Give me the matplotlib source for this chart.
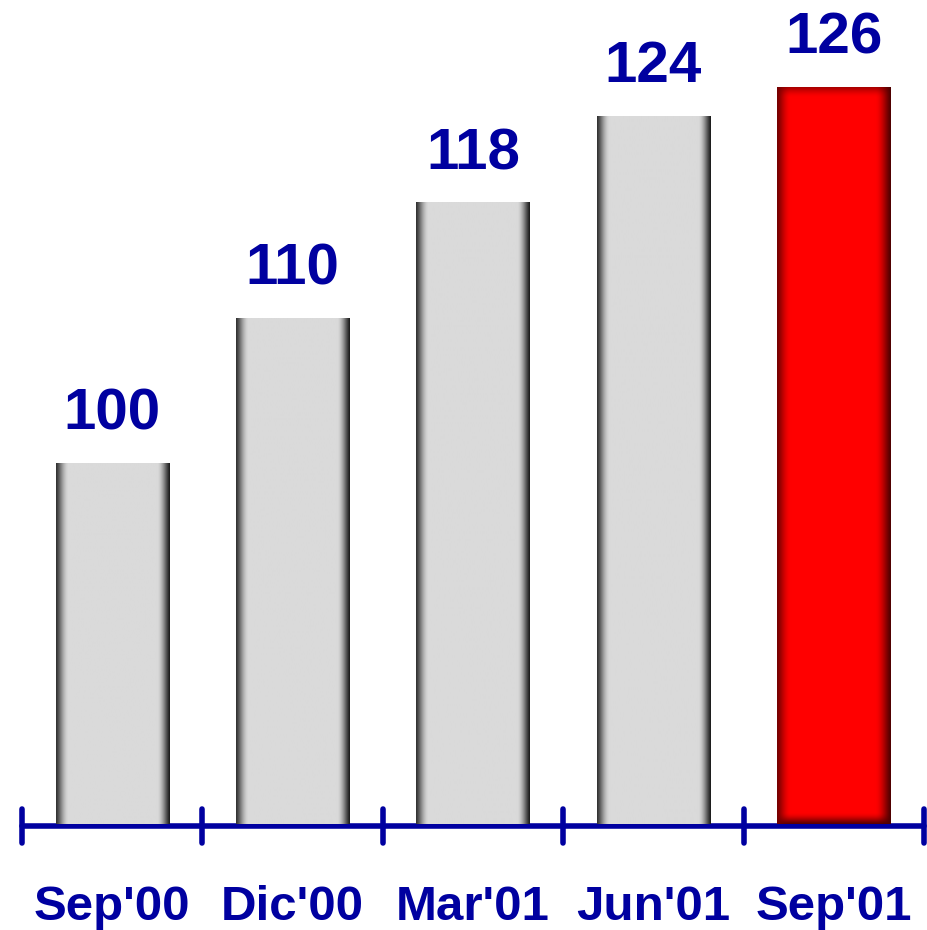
import numpy as np
import matplotlib
matplotlib.use("Agg")
import matplotlib.pyplot as plt
from matplotlib.markers import MarkerStyle

categories = ["Sep'00", "Dic'00", "Mar'01", "Jun'01", "Sep'01"]
values = [100, 110, 118, 124, 126]
highlight = [False, False, False, False, True]

BLUE = '#0000A0'
plt.rcParams['font.family'] = ['Liberation Sans', 'DejaVu Sans']

fig = plt.figure(figsize=(9.28, 9.30), dpi=100)
ax = fig.add_axes([22/928, (930-824)/930, 902/928, 795/930])
ax.set_xlim(-0.5, len(categories) - 0.5)
ax.set_ylim(75, 130)

x = np.arange(len(categories))
bars = ax.bar(x, [v - 75 for v in values], bottom=75, width=0.627,
              color=['#FF0000' if h else '#DADADA' for h in highlight],
              linewidth=0, zorder=2)

# pixel scales
p0 = ax.transData.transform((0, 75))
p1 = ax.transData.transform((1, 76))
pxx = p1[0] - p0[0]
pxy = p1[1] - p0[1]


def ramp(d, r):
    t = np.clip(d / r, 0, 1)
    return np.sin(t * np.pi / 2) ** 1.3


for b, h in zip(bars, highlight):
    x0, w = b.get_x(), b.get_width()
    y0, hh = b.get_y(), b.get_height()
    Wp = max(int(w * pxx), 2)
    Hp = max(int(hh * pxy), 2)
    u = (np.arange(Wp) + 0.5)
    v = (np.arange(Hp) + 0.5)
    U, V = np.meshgrid(u, v)
    if not h:
        base = np.array([0xDA, 0xDA, 0xDA]) / 255
        fl = ramp(U, 13)
        fr = ramp(Wp - U, 13)
        darkl = np.array([0x30, 0x30, 0x30]) / 255
        darkr = np.array([0x1A, 0x1A, 0x1A]) / 255
        img = np.ones((Hp, Wp, 3)) * base
        img = darkl + (img - darkl) * fl[..., None]
        img = darkr + (img - darkr) * fr[..., None]
    else:
        base = np.array([1.0, 0.0, 0.0])
        img = np.ones((Hp, Wp, 3)) * base
        fl = ramp(U, 14)
        fr = ramp(Wp - U, 16)
        ft = ramp(Hp - V, 12)
        fb = ramp(V, 12)
        for f, dk in [(ft, (0.62, 0, 0)), (fb, (0.35, 0, 0)),
                      (fl, (0.45, 0, 0)), (fr, (0.30, 0, 0))]:
            dk = np.array(dk)
            img = dk + (img - dk) * f[..., None]
    im = ax.imshow(np.clip(img, 0, 1), extent=(x0, x0 + w, y0, y0 + hh),
                   origin='lower', aspect='auto', zorder=3,
                   interpolation='bilinear')
    im.set_clip_path(b)

ax.set_xlim(-0.5, len(categories) - 0.5)
ax.set_ylim(75, 130)

for xi, val in zip(x, values):
    ax.annotate(str(val), (xi, val), xytext=(0, 24), textcoords='offset points',
                ha='center', va='baseline', fontsize=42, fontweight='bold',
                color=BLUE, annotation_clip=False)
    ax.annotate(categories[xi], (xi, 75), xytext=(0, -69),
                textcoords='offset points', ha='center', va='baseline',
                fontsize=35.5, fontweight='bold', color=BLUE,
                annotation_clip=False)

for s in ['top', 'right', 'left']:
    ax.spines[s].set_visible(False)
ax.spines['bottom'].set_color(BLUE)
ax.spines['bottom'].set_linewidth(4)
ax.spines['bottom'].set_position(('outward', 1.5))
ax.spines['bottom'].set_capstyle('round')
ax.set_xticks(np.arange(-0.5, len(categories), 1.0))
ax.set_xticklabels([])
ax.tick_params(axis='x', direction='inout', length=24, width=4,
               color=BLUE)
for t in ax.xaxis.get_major_ticks():
    t.tick1line.set_marker(MarkerStyle('|', capstyle='round'))
ax.set_yticks([])
ax.patch.set_visible(False)

fig.savefig('out.png', dpi=100)
